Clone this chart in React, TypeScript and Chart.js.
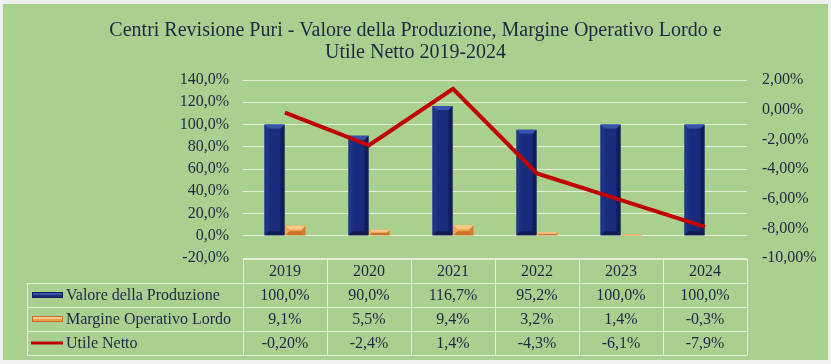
import React, { useEffect, useRef } from "react";
import { Chart, registerables } from "chart.js";

Chart.register(...registerables);

const years = ["2019", "2020", "2021", "2022", "2023", "2024"];
const valore = [100, 90, 116.7, 95.2, 100, 100];
const margine = [9.1, 5.5, 9.4, 3.2, 1.4, -0.3];
const utile = [-0.2, -2.4, 1.4, -4.3, -6.1, -7.9];
const valoreText = ["100,0%", "90,0%", "116,7%", "95,2%", "100,0%", "100,0%"];
const margineText = ["9,1%", "5,5%", "9,4%", "3,2%", "1,4%", "-0,3%"];
const utileText = ["-0,20%", "-2,4%", "1,4%", "-4,3%", "-6,1%", "-7,9%"];
const seriesNames = ["Valore della Produzione", "Margine Operativo Lordo", "Utile Netto"];
const titleLines = [
  "Centri Revisione Puri - Valore della Produzione, Margine Operativo Lordo e",
  "Utile Netto 2019-2024",
];

const FONT = '"Liberation Serif", "Times New Roman", serif';
const TEXT = "#1d2846";
const NAVY = "#1a2d7c";
const ORANGE = "#f29c45";
const RED = "#c00000";
const GRID = "rgba(232,243,225,0.9)";

const bevelStyles: Record<number, { top: string; left: string; right: string; bottom: string }> = {
  1: { top: "#3654a8", left: "#1e338a", right: "#111d58", bottom: "#101b50" },
  2: { top: "#fbc88c", left: "#f3a453", right: "#d27f32", bottom: "#c87428" },
};

const bevelPlugin = {
  id: "bevel",
  afterDatasetDraw(chart: any, args: any) {
    const st = bevelStyles[args.index];
    if (!st) return;
    const ctx = chart.ctx;
    const meta = args.meta;
    ctx.save();
    meta.data.forEach((el: any) => {
      const { x, y, base, width } = el.getProps(["x", "y", "base", "width"], true);
      const l = x - width / 2;
      const r = x + width / 2;
      const t = Math.min(y, base);
      const btm = Math.max(y, base);
      const h = btm - t;
      const b = Math.min(4, h / 2, width / 4);
      if (b < 0.5) return;
      const poly = (pts: number[][], color: string) => {
        ctx.fillStyle = color;
        ctx.beginPath();
        ctx.moveTo(pts[0][0], pts[0][1]);
        for (let i = 1; i < pts.length; i++) ctx.lineTo(pts[i][0], pts[i][1]);
        ctx.closePath();
        ctx.fill();
      };
      poly([[l, t], [l + b, t + b], [l + b, btm - b], [l, btm]], st.left);
      poly([[r, t], [r - b, t + b], [r - b, btm - b], [r, btm]], st.right);
      poly([[l, btm], [l + b, btm - b], [r - b, btm - b], [r, btm]], st.bottom);
      poly([[l, t], [r, t], [r - b, t + b], [l + b, t + b]], st.top);
    });
    ctx.restore();
  },
};

const decorPlugin = {
  id: "decor",
  beforeDraw(chart: any) {
    const { ctx, width, height } = chart;
    ctx.save();
    ctx.fillStyle = "#eef1ee";
    ctx.fillRect(0, 0, width, height);
    ctx.fillStyle = "#a9d08e";
    ctx.fillRect(3, 4, width - 6, height - 8);
    ctx.restore();
  },
  afterDraw(chart: any) {
    const { ctx, chartArea } = chart;
    ctx.save();
    ctx.fillStyle = TEXT;
    ctx.font = `20px ${FONT}`;
    ctx.textAlign = "center";
    ctx.textBaseline = "middle";
    const cx = chart.width / 2;
    ctx.fillText(titleLines[0], cx, 31);
    ctx.fillText(titleLines[1], cx, 53);

    const left = chartArea.left;
    const right = chartArea.right;
    const top = chartArea.bottom + 1;
    const rowH = 24;
    const colW = (right - left) / years.length;
    const labelLeft = 27;
    ctx.strokeStyle = GRID;
    ctx.lineWidth = 1;
    ctx.beginPath();
    ctx.moveTo(left, top + 0.5);
    ctx.lineTo(right, top + 0.5);
    for (let r = 1; r <= 4; r++) {
      const y = Math.round(top + r * rowH) + 0.5;
      ctx.moveTo(labelLeft, y);
      ctx.lineTo(right, y);
    }
    for (let c = 0; c <= years.length; c++) {
      const x = Math.round(left + c * colW) + 0.5;
      ctx.moveTo(x, top);
      ctx.lineTo(x, top + 4 * rowH);
    }
    ctx.moveTo(labelLeft + 0.5, top + rowH);
    ctx.lineTo(labelLeft + 0.5, top + 4 * rowH);
    ctx.stroke();

    ctx.font = `16px ${FONT}`;
    ctx.fillStyle = TEXT;
    ctx.textAlign = "center";
    ctx.textBaseline = "middle";
    const rows = [years, valoreText, margineText, utileText];
    rows.forEach((row, r) => {
      const y = top + r * rowH + rowH / 2 + 1;
      row.forEach((t, c) => {
        ctx.fillText(t, left + c * colW + colW / 2, y);
      });
    });
    ctx.textAlign = "left";
    seriesNames.forEach((name, i) => {
      const y = top + (i + 1) * rowH + rowH / 2;
      if (i < 2) {
        ctx.fillStyle = i === 0 ? NAVY : ORANGE;
        ctx.fillRect(32, y - 3, 31, 6);
        ctx.fillStyle = i === 0 ? "#3654a8" : "#fbc88c";
        ctx.fillRect(33, y - 2, 29, 2);
        ctx.strokeStyle = i === 0 ? "#0f1d55" : "#c2702a";
        ctx.lineWidth = 1;
        ctx.strokeRect(32.5, y - 2.5, 30, 5);
      } else {
        ctx.strokeStyle = RED;
        ctx.lineWidth = 3;
        ctx.beginPath();
        ctx.moveTo(31, y);
        ctx.lineTo(63, y);
        ctx.stroke();
        ctx.lineWidth = 1;
      }
      ctx.fillStyle = TEXT;
      ctx.fillText(name, 66, y + 1);
    });
    ctx.restore();
  },
};

export default function App() {
  const ref = useRef<HTMLCanvasElement | null>(null);
  useEffect(() => {
    if (!ref.current) return;
    const chart = new Chart(ref.current, {
      type: "bar",
      data: {
        labels: years,
        datasets: [
          {
            type: "line",
            label: seriesNames[2],
            data: utile,
            yAxisID: "y1",
            borderColor: RED,
            backgroundColor: RED,
            borderWidth: 4,
            pointRadius: 0,
            tension: 0,
            order: 0,
          } as any,
          {
            type: "bar",
            label: seriesNames[0],
            data: valore,
            yAxisID: "y",
            backgroundColor: NAVY,
            borderWidth: 0,
            categoryPercentage: 0.5,
            barPercentage: 0.95,
            order: 1,
          },
          {
            type: "bar",
            label: seriesNames[1],
            data: margine,
            yAxisID: "y",
            backgroundColor: ORANGE,
            borderWidth: 0,
            categoryPercentage: 0.5,
            barPercentage: 0.95,
            order: 1,
          },
        ],
      },
      options: {
        responsive: false,
        animation: false,
        devicePixelRatio: 1,
        layout: { padding: { top: 80, bottom: 106, left: 0, right: 0 } },
        plugins: {
          legend: { display: false },
          title: { display: false },
          tooltip: { enabled: false },
        },
        scales: {
          x: { display: false },
          y: {
            position: "left",
            min: -20,
            max: 140,
            ticks: {
              stepSize: 20,
              padding: 14,
              color: TEXT,
              font: { family: FONT, size: 16 },
              callback: (v: any) => Number(v).toFixed(1).replace(".", ",") + "%",
            },
            grid: { color: GRID, drawTicks: false, lineWidth: 1 },
            border: { display: false },
            afterFit: (s: any) => {
              s.width = 243;
            },
          },
          y1: {
            position: "right",
            min: -10,
            max: 2,
            ticks: {
              stepSize: 2,
              padding: 15,
              color: TEXT,
              font: { family: FONT, size: 16 },
              callback: (v: any) => Number(v).toFixed(2).replace(".", ",") + "%",
            },
            grid: { display: false, drawTicks: false },
            border: { display: false },
            afterFit: (s: any) => {
              s.width = 84;
            },
          },
        },
      },
      plugins: [decorPlugin, bevelPlugin],
    });
    return () => chart.destroy();
  }, []);
  return (
    <div style={{ position: "absolute", left: 0, top: 0, width: 831, height: 364 }}>
      <canvas ref={ref} width={831} height={364} style={{ display: "block" }} />
    </div>
  );
}
